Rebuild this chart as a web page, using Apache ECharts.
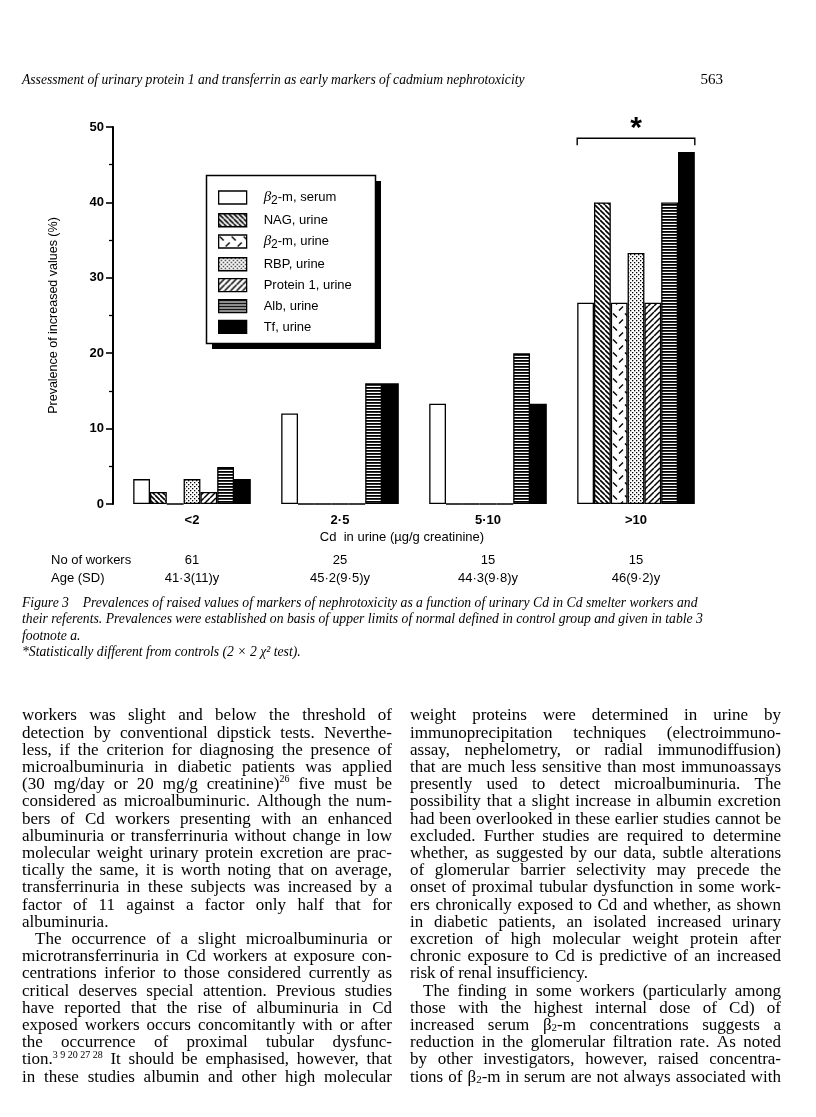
<!DOCTYPE html>
<html>
<head>
<meta charset="utf-8">
<script src="https://cdn.jsdelivr.net/npm/echarts@6/dist/echarts.min.js"></script>
<style>
  html, body { margin: 0; padding: 0; background: #fff; }
  #chart { width: 816px; height: 1117px; }
</style>
</head>
<body>
<div id="chart"></div>
<script>
// ---- data (prevalence, %) ----
const categories = ['<2', '2·5', '5·10', '>10'];
const b2mSerum = [3.3, 12, 13.3, 26.7];
const nagUrine = [1.6, 0, 0, 40];
const b2mUrine = [0, 0, 0, 26.7];
const rbpUrine = [3.3, 0, 0, 33.3];
const protein1Urine = [1.6, 0, 0, 26.7];
const albUrine = [4.9, 16, 20, 40];
const tfUrine = [3.3, 16, 13.3, 46.7];
const workers = ['61', '25', '15', '15'];
const ages = ['41·3(11)y', '45·2(9·5)y', '44·3(9·8)y', '46(9·2)y'];

const headerText = 'Assessment of urinary protein 1 and transferrin as early markers of cadmium nephrotoxicity';
const pageNo = '563';
const captionLines = [
  'Figure 3    Prevalences of raised values of markers of nephrotoxicity as a function of urinary Cd in Cd smelter workers and',
  'their referents. Prevalences were established on basis of upper limits of normal defined in control group and given in table 3',
  'footnote a.',
  '*Statistically different from controls (2 × 2 χ² test).'
];

// ^ = superscript to end of word, _x = one-char subscript
const leftColumn = [
  'workers was slight and below the threshold of',
  'detection by conventional dipstick tests. Neverthe-',
  'less, if the criterion for diagnosing the presence of',
  'microalbuminuria in diabetic patients was applied',
  '(30 mg/day or 20 mg/g creatinine)^26 five must be',
  'considered as microalbuminuric. Although the num-',
  'bers of Cd workers presenting with an enhanced',
  'albuminuria or transferrinuria without change in low',
  'molecular weight urinary protein excretion are prac-',
  'tically the same, it is worth noting that on average,',
  'transferrinuria in these subjects was increased by a',
  'factor of 11 against a factor only half that for',
  'albuminuria.',
  'The occurrence of a slight microalbuminuria or',
  'microtransferrinuria in Cd workers at exposure con-',
  'centrations inferior to those considered currently as',
  'critical deserves special attention. Previous studies',
  'have reported that the rise of albuminuria in Cd',
  'exposed workers occurs concomitantly with or after',
  'the occurrence of proximal tubular dysfunc-',
  'tion.^3\u00a09\u00a020\u00a027\u00a028 It should be emphasised, however, that',
  'in these studies albumin and other high molecular'
];
const rightColumn = [
  'weight proteins were determined in urine by',
  'immunoprecipitation techniques (electroimmuno-',
  'assay, nephelometry, or radial immunodiffusion)',
  'that are much less sensitive than most immunoassays',
  'presently used to detect microalbuminuria. The',
  'possibility that a slight increase in albumin excretion',
  'had been overlooked in these earlier studies cannot be',
  'excluded. Further studies are required to determine',
  'whether, as suggested by our data, subtle alterations',
  'of glomerular barrier selectivity may precede the',
  'onset of proximal tubular dysfunction in some work-',
  'ers chronically exposed to Cd and whether, as shown',
  'in diabetic patients, an isolated increased urinary',
  'excretion of high molecular weight protein after',
  'chronic exposure to Cd is predictive of an increased',
  'risk of renal insufficiency.',
  'The finding in some workers (particularly among',
  'those with the highest internal dose of Cd) of',
  'increased serum β_2-m concentrations suggests a',
  'reduction in the glomerular filtration rate. As noted',
  'by other investigators, however, raised concentra-',
  'tions of β_2-m in serum are not always associated with'
];
const leftIndent = [13], leftEnds = [12];
const rightIndent = [16], rightEnds = [15];

// ---- fill patterns ----
function pattern(w, h, draw) {
  const c = document.createElement('canvas');
  c.width = w; c.height = h;
  const g = c.getContext('2d');
  g.fillStyle = '#fff'; g.fillRect(0, 0, w, h);
  g.fillStyle = '#000'; g.strokeStyle = '#000';
  draw(g, w, h);
  return { image: c, repeat: 'repeat' };
}
const fills = {
  white: '#fff',
  back: pattern(5, 5, (g, w) => {
    g.lineWidth = 1.6; g.beginPath();
    for (let k = -1; k <= 1; k++) { g.moveTo(k * w, 0); g.lineTo(k * w + w, w); }
    g.stroke();
  }),
  dashes: pattern(12, 13, g => {
    g.lineWidth = 1.4; g.beginPath();
    g.moveTo(1, 1.5); g.lineTo(5, 5.5);
    g.moveTo(7, 11.5); g.lineTo(11, 7.5);
    g.stroke();
  }),
  dots: pattern(4, 4, g => { g.fillRect(0, 0, 1.3, 1.3); g.fillRect(2, 2, 1.3, 1.3); }),
  fwd: pattern(6, 6, (g, w) => {
    g.lineWidth = 1.5; g.beginPath();
    for (let k = -1; k <= 1; k++) { g.moveTo(k * w, w); g.lineTo(k * w + w, 0); }
    g.stroke();
  }),
  horiz: pattern(4, 3, g => { g.fillRect(0, 0, 4, 1.8); }),
  black: '#000'
};

const SANS = '"Liberation Sans", Arial, sans-serif';
const SERIF = '"Liberation Serif", "Times New Roman", serif';

function bar(name, data, fill) {
  return {
    type: 'bar', name, data, barWidth: 16.8, barGap: '0%',
    itemStyle: { color: fill, borderColor: '#000', borderWidth: 1.3 },
    emphasis: { disabled: true }
  };
}

const chart = echarts.init(document.getElementById('chart'), null, { renderer: 'canvas' });

const hiddenAxis = { show: false };
chart.setOption({
  animation: false,
  backgroundColor: '#fff',
  grid: { left: 118, right: 106, top: 127, bottom: 613 },
  legend: {
    orient: 'vertical', left: 218, top: 190, padding: 0, z: 10,
    icon: 'rect', itemWidth: 28, itemHeight: 13, itemGap: 6.6,
    selectedMode: false,
    itemStyle: { borderColor: '#000', borderWidth: 1.3 },
    formatter: n => n.startsWith('β2')
      ? `{g|β}{s|2}{t|${n.slice(2)}}`
      : `{tp|${n}}`,
    textStyle: {
      fontFamily: SANS, fontSize: 13, color: '#000',
      rich: {
        t: { fontFamily: SANS, fontSize: 13, color: '#000' },
        tp: { fontFamily: SANS, fontSize: 13, color: '#000', padding: [0, 0, 0, 12] },
        g: { fontFamily: SERIF, fontStyle: 'italic', fontSize: 15, color: '#000', padding: [0, 0, 0, 12] },
        s: { fontFamily: SANS, fontSize: 12, color: '#000', padding: [6, 0, 0, 0] }
      }
    },
    data: ['β2-m, serum', 'NAG, urine', 'β2-m, urine', 'RBP, urine', 'Protein 1, urine', 'Alb, urine', 'Tf, urine']
  },
  xAxis: [
    {
      type: 'category', data: categories,
      axisLine: hiddenAxis, axisTick: hiddenAxis,
      axisLabel: { fontFamily: SANS, fontWeight: 'bold', fontSize: 13, color: '#000', margin: 10 }
    },
    {
      type: 'category', data: workers, position: 'bottom', offset: 40,
      axisLine: hiddenAxis, axisTick: hiddenAxis,
      axisLabel: { fontFamily: SANS, fontSize: 13, color: '#000', margin: 10 }
    },
    {
      type: 'category', data: ages, position: 'bottom', offset: 58,
      axisLine: hiddenAxis, axisTick: hiddenAxis,
      axisLabel: { fontFamily: SANS, fontSize: 13, color: '#000', margin: 10 }
    }
  ],
  yAxis: {
    type: 'value', min: 0, max: 50, interval: 10, offset: 5,
    axisLine: { show: true, lineStyle: { color: '#000', width: 2 } },
    axisTick: { show: true, length: 7, lineStyle: { color: '#000', width: 1.6 } },
    minorTick: { show: true, splitNumber: 2, length: 4, lineStyle: { color: '#000', width: 1.3 } },
    splitLine: { show: false },
    axisLabel: { fontFamily: SANS, fontWeight: 'bold', fontSize: 13, color: '#000', margin: 9 },
    name: 'Prevalence of increased values (%)',
    nameLocation: 'middle', nameGap: 53,
    nameTextStyle: { fontFamily: SANS, fontSize: 12.5, color: '#000' }
  },
  series: [
    bar('β2-m, serum', b2mSerum, fills.white),
    bar('NAG, urine', nagUrine, fills.back),
    bar('β2-m, urine', b2mUrine, fills.dashes),
    bar('RBP, urine', rbpUrine, fills.dots),
    bar('Protein 1, urine', protein1Urine, fills.fwd),
    bar('Alb, urine', albUrine, fills.horiz),
    bar('Tf, urine', tfUrine, fills.black)
  ]
});

// ---- text layout helpers ----
const mctx = document.createElement('canvas').getContext('2d');
function textWidth(t, f) { mctx.font = f; return mctx.measureText(t).width; }

const BODY_SIZE = 17;
function segFont(k) {
  if (k === 'sup') return `10px ${SERIF}`;
  if (k === 'sub') return `11px ${SERIF}`;
  return `${BODY_SIZE}px ${SERIF}`;
}
function parseWord(w) {
  const out = [];
  let buf = '';
  for (let i = 0; i < w.length; i++) {
    const c = w[i];
    if (c === '^') { if (buf) out.push({ t: buf, k: 'n' }); out.push({ t: w.slice(i + 1), k: 'sup' }); return out; }
    if (c === '_') { if (buf) out.push({ t: buf, k: 'n' }); buf = ''; out.push({ t: w[i + 1], k: 'sub' }); i++; continue; }
    buf += c;
  }
  if (buf) out.push({ t: buf, k: 'n' });
  return out;
}
function layoutColumn(lines, x0, width, y0, lineH, indentRows, endRows) {
  const els = [];
  const space = textWidth(' ', segFont('n'));
  lines.forEach((line, r) => {
    const y = y0 + r * lineH;
    const indent = indentRows.includes(r) ? 13 : 0;
    const words = line.split(' ').map(parseWord);
    const widths = words.map(w => w.reduce((s, seg) => s + textWidth(seg.t, segFont(seg.k)), 0));
    const natural = widths.reduce((a, b) => a + b, 0);
    const gap = (endRows.includes(r) || words.length < 2)
      ? space
      : Math.max(2, (width - indent - natural) / (words.length - 1));
    let x = x0 + indent;
    words.forEach(w => {
      w.forEach(seg => {
        const dy = seg.k === 'sup' ? -5 : seg.k === 'sub' ? 3 : 0;
        els.push({
          type: 'text', x, y: y + dy, silent: true,
          style: { text: seg.t, font: segFont(seg.k), fill: '#000', verticalAlign: 'middle' }
        });
        x += textWidth(seg.t, segFont(seg.k));
      });
      x += gap;
    });
  });
  return els;
}
function fitFont(text, style, family, target) {
  const w = textWidth(text, `${style} 20px ${family}`);
  return 20 * target / w;
}

// ---- annotation positions from the chart's own scales ----
const gx = chart.convertToPixel({ xAxisIndex: 0 }, '>10');
const half = 3.5 * 16.8;
const yBracket = chart.convertToPixel({ yAxisIndex: 0 }, 48.5);
const yStar = chart.convertToPixel({ yAxisIndex: 0 }, 49.8);

const headerSize = fitFont(headerText, 'italic', SERIF, 503);
const capSize = fitFont(captionLines[0], 'italic', SERIF, 676);
const capY = [603, 619.5, 636, 652];

const graphics = [
  // legend frame with drop shadow
  { type: 'rect', z: 0, silent: true, shape: { x: 212, y: 181, width: 169, height: 168 }, style: { fill: '#000' } },
  { type: 'rect', z: 1, silent: true, shape: { x: 206.5, y: 175.5, width: 169, height: 168 }, style: { fill: '#fff', stroke: '#000', lineWidth: 1.5 } },
  // significance bracket
  {
    type: 'polyline', silent: true,
    shape: { points: [[gx - half, yBracket + 7], [gx - half, yBracket], [gx + half, yBracket], [gx + half, yBracket + 7]] },
    style: { stroke: '#000', lineWidth: 1.4, fill: null }
  },
  { type: 'text', silent: true, x: gx, y: yStar, style: { text: '*', font: `bold 30px ${SANS}`, fill: '#000', align: 'center', verticalAlign: 'middle' } },
  // axis title and row labels
  { type: 'text', silent: true, x: 402, y: 537, style: { text: 'Cd  in urine (µg/g creatinine)', font: `13px ${SANS}`, fill: '#000', align: 'center', verticalAlign: 'middle' } },
  { type: 'text', silent: true, x: 51, y: 560, style: { text: 'No of workers', font: `13px ${SANS}`, fill: '#000', verticalAlign: 'middle' } },
  { type: 'text', silent: true, x: 51, y: 578, style: { text: 'Age (SD)', font: `13px ${SANS}`, fill: '#000', verticalAlign: 'middle' } },
  // running head
  { type: 'text', silent: true, x: 22, y: 80, style: { text: headerText, font: `italic ${headerSize}px ${SERIF}`, fill: '#000', verticalAlign: 'middle' } },
  { type: 'text', silent: true, x: 723, y: 80, style: { text: pageNo, font: `15px ${SERIF}`, fill: '#000', align: 'right', verticalAlign: 'middle' } }
];
captionLines.forEach((t, i) => graphics.push({
  type: 'text', silent: true, x: 22, y: capY[i],
  style: { text: t, font: `italic ${capSize}px ${SERIF}`, fill: '#000', verticalAlign: 'middle' }
}));
graphics.push(...layoutColumn(leftColumn, 22, 370, 716, 17.2, leftIndent, leftEnds));
graphics.push(...layoutColumn(rightColumn, 410, 371, 716, 17.2, rightIndent, rightEnds));

chart.setOption({ graphic: { elements: graphics } });
window.addEventListener('resize', () => chart.resize());
</script>
</body>
</html>
